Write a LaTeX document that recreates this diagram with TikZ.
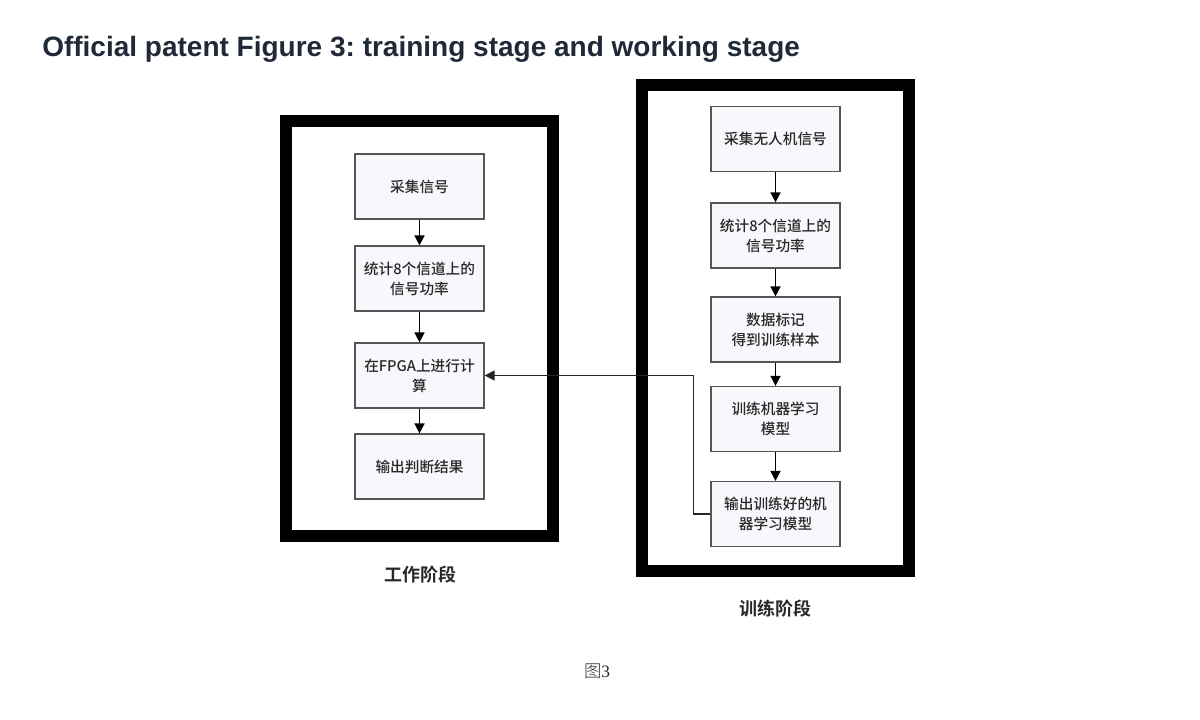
\documentclass[tikz,border=0pt]{standalone}
\usepackage{fontspec}
\setmainfont{Liberation Sans}
\newfontfamily\cjk{Noto Sans CJK SC Medium}
\newfontfamily\cjkb{Noto Sans CJK SC Bold}
\newfontfamily\cjkl{Noto Sans CJK SC Light}
\newfontfamily\serifnum{Liberation Serif}
\usetikzlibrary{arrows.meta}
\definecolor{titlec}{RGB}{31,41,55}
\definecolor{boxfill}{RGB}{246,248,251}
\definecolor{boxline}{RGB}{85,85,85}
\definecolor{txt}{RGB}{40,40,40}
\frenchspacing
\begin{document}
\begin{tikzpicture}[x=0.75pt,y=-0.75pt,
  frame/.style={draw=black,line width=9pt},
  stepbox/.style={draw=boxline,line width=0.9pt,fill=boxfill,minimum width=96.75pt,minimum height=48.75pt,
    inner sep=1pt,align=center,text=txt,font=\cjk\fontsize{11pt}{15pt}\selectfont},
  flow/.style={draw=black,line width=1.2pt,-{Triangle[length=7.5pt,width=7.5pt]}},
  link/.style={draw=black!85,line width=0.8pt,-{Triangle[length=7.5pt,width=7.5pt]}},
  stage/.style={text=txt,font=\cjkb\fontsize{13.5pt}{15pt}\selectfont}]
\useasboundingbox (0,0) rectangle (1200,720);
\node[anchor=base west,inner sep=0pt,text=titlec,font=\bfseries\fontsize{21pt}{24pt}\selectfont] (title) at (42,57)
  {Official patent Figure 3: training stage and working stage};
% frames
\draw[frame] (286,121.5) rectangle (553,536);
\draw[frame] (641.5,85) rectangle (909,570.5);
% left (working stage)
\node[stepbox] (l1) at (419.5,186.5) {采集信号};
\node[stepbox] (l2) at (419.5,278.5) {统计8个信道上的\\信号功率};
\node[stepbox] (l3) at (419.5,375.5) {在FPGA上进行计\\算};
\node[stepbox] (l4) at (419.5,466.5) {输出判断结果};
% right (training stage)
\node[stepbox] (r1) at (775.5,139) {采集无人机信号};
\node[stepbox] (r2) at (775.5,235.5) {统计8个信道上的\\信号功率};
\node[stepbox] (r3) at (775.5,329.5) {数据标记\\得到训练样本};
\node[stepbox] (r4) at (775.5,419) {训练机器学习\\模型};
\node[stepbox] (r5) at (775.5,514) {输出训练好的机\\器学习模型};
\draw[flow] (l1) -- (l2);
\draw[flow] (l2) -- (l3);
\draw[flow] (l3) -- (l4);
\draw[flow] (r1) -- (r2);
\draw[flow] (r2) -- (r3);
\draw[flow] (r3) -- (r4);
\draw[flow] (r4) -- (r5);
\draw[link] (r5.west) -- ++(-17,0) |- (l3.east);
\node[stage] (ws) at (420,575) {工作阶段};
\node[stage] (ts) at (775,609) {训练阶段};
\node[text=txt,font=\fontsize{13pt}{15pt}\selectfont] (fig) at (597,671) {{\cjkl 图}{\serifnum 3}};
\end{tikzpicture}
\end{document}
